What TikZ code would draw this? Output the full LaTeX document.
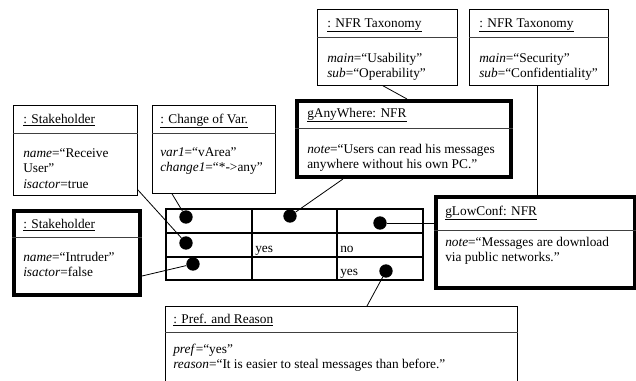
\documentclass[tikz,border=0pt]{standalone}
\usepackage{fontspec}
\setmainfont{Liberation Serif}
\usetikzlibrary{calc}

\begin{document}
\begin{tikzpicture}[x=0.75pt,y=-0.75pt]
  \tikzset{obj/.style = {shape=rectangle,draw,line width=0.6pt,inner sep=0pt,anchor=north west}}
  \tikzset{bigobj/.style = {obj,line width=3pt}}
  \tikzset{txt/.style = {inner sep=0pt,anchor=base west,align=left,font=\fontsize{10pt}{11.6pt}\selectfont}}
  \tikzset{dot/.style = {shape=circle,fill,minimum size=10pt,inner sep=0pt}}
  \tikzset{cell/.style = {line width=1.5pt}}
  \tikzset{divider/.style = {line width=0.5pt,black!75}}

  \useasboundingbox (0,0) rectangle (636,380);
  \clip (0,0) rectangle (636,380);

  % object boxes
  \node[obj,minimum width=124*0.75pt,minimum height=90*0.75pt] (rcv) at (13,105) {};
  \node[obj,minimum width=123*0.75pt,minimum height=88*0.75pt] (chg) at (152,105) {};
  \node[obj,minimum width=140*0.75pt,minimum height=76*0.75pt] (tx1) at (317,9) {};
  \node[obj,minimum width=139*0.75pt,minimum height=76*0.75pt] (tx2) at (469,9) {};
  \node[bigobj,minimum width=214*0.75pt,minimum height=76*0.75pt] (any) at (295,99) {};
  \node[bigobj,minimum width=126*0.75pt,minimum height=84*0.75pt] (int) at (12,209) {};
  \node[bigobj,minimum width=199*0.75pt,minimum height=91*0.75pt] (low) at (434,195) {};
  \node[obj,minimum width=352*0.75pt,minimum height=110*0.75pt] (pref) at (165,306) {};

  % compartments
  \foreach \obj/\dy in {rcv/28, chg/28, tx1/28, tx2/28, any/29, int/28, low/35, pref/26}
    \draw[divider] ($(\obj.north west)+(0,\dy)$) -- ($(\obj.north east)+(0,\dy)$);

  % (body texts sit on the baseline of their last line)
  \node[txt] (rcvh) at ($(rcv.north west)+(10,18)$) {\underline{: Stakeholder}};
  \node[txt] (rcvb) at ($(rcv.north west)+(10,83)$) {\textit{name}=``Receive\\User''\\\textit{isactor}=true};
  \node[txt] (chgh) at ($(chg.north west)+(8,18)$) {\underline{: Change of Var.}};
  \node[txt] (chgb) at ($(chg.north west)+(8,66.5)$) {\textit{var1}=``vArea''\\\textit{change1}=``*->any''};
  \node[txt] (tx1h) at ($(tx1.north west)+(10,18)$) {\underline{: NFR Taxonomy}};
  \node[txt] (tx1b) at ($(tx1.north west)+(10,68.5)$) {\textit{main}=``Usability''\\\textit{sub}=``Operability''};
  \node[txt] (tx2h) at ($(tx2.north west)+(10,18)$) {\underline{: NFR Taxonomy}};
  \node[txt] (tx2b) at ($(tx2.north west)+(10,68.5)$) {\textit{main}=``Security''\\\textit{sub}=``Confidentiality''};
  \node[txt] (anyh) at ($(any.north west)+(12,18)$) {\underline{gAnyWhere: NFR}};
  \node[txt] (anyb) at ($(any.north west)+(12,69.5)$) {\textit{note}=``Users can read his messages\\anywhere without his own PC.''};
  \node[txt] (inth) at ($(int.north west)+(11,19)$) {\underline{: Stakeholder}};
  \node[txt] (intb) at ($(int.north west)+(11,67.5)$) {\textit{name}=``Intruder''\\\textit{isactor}=false};
  \node[txt] (lowh) at ($(low.north west)+(11,20)$) {\underline{gLowConf: NFR}};
  \node[txt] (lowb) at ($(low.north west)+(11,66.5)$) {\textit{note}=``Messages are download\\via public networks.''};
  \node[txt] (prefh) at ($(pref.north west)+(8,17)$) {\underline{: Pref. and Reason}};
  \node[txt] (prefb) at ($(pref.north west)+(8,62.5)$) {\textit{pref}=``yes''\\\textit{reason}=``It is easier to steal messages than before.''};

  % table
  \draw[cell] (166,209) rectangle (423,280);
  \draw[cell] (166,233) -- (423,233) (166,257) -- (423,257);
  \draw[cell] (252,209) -- (252,280) (337,209) -- (337,280);
  \node[txt] (c22) at (255,252) {yes};
  \node[txt] (c23) at (340,252) {no};
  \node[txt] (c33) at (340,275) {yes};

  \node[dot] (d11) at (186,217) {};
  \node[dot] (d21) at (186,243) {};
  \node[dot] (d31) at (193,264) {};
  \node[dot] (d12) at (290,216) {};
  \node[dot] (d13) at (380,223) {};
  \node[dot] (d33) at (386,271) {};

  % links
  \coordinate (a1) at ($(rcv.south east)+(0,-6)$);
  \coordinate (a2) at ($(chg.south west)+(20,0)$);
  \coordinate (a3) at ($(int.south east)+(0,-21)$);
  \coordinate (a4) at ($(any.south west)+(48,0)$);
  \coordinate (a5) at ($(pref.north west)+(202,0)$);
  \coordinate (a6) at (low.west |- d13);
  \coordinate (a7) at ($(tx1.south west)+(66,0)$);
  \coordinate (a8) at ($(any.north west)+(112,0)$);
  \coordinate (a9) at ($(tx2.south west)+(68,0)$);
  \coordinate (a10) at (a9 |- low.north);

  \foreach \from/\to in {a1/d21, a2/d11, a3/d31, a4/d12, a5/d33, a6/d13, a7/a8, a9/a10}
    \draw[line width=0.6pt] (\from) -- (\to);
\end{tikzpicture}
\end{document}
